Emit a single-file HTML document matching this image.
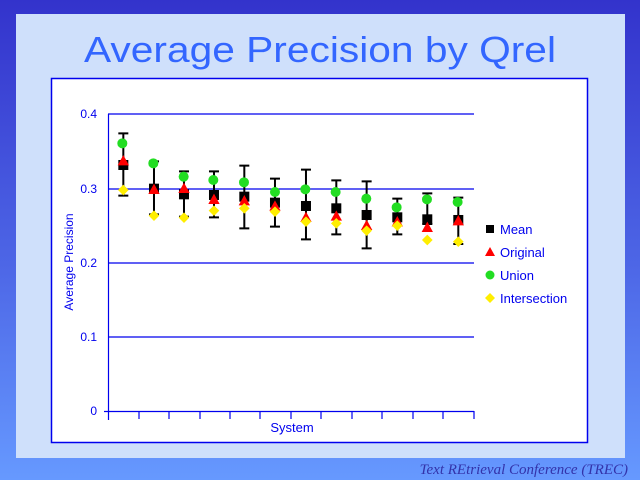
<!DOCTYPE html>
<html><head><meta charset="utf-8"><style>
html,body{margin:0;padding:0;width:640px;height:480px;overflow:hidden}
body{background:linear-gradient(#3333cc 0%,#4a66e0 60%,#6699ff 100%)}
</style></head><body>
<svg width="640" height="480" xmlns="http://www.w3.org/2000/svg" style="position:absolute;left:0;top:0">
<defs><linearGradient id="bg" x1="0" y1="0" x2="0" y2="1"><stop offset="0" stop-color="#3333cc"/><stop offset="0.55" stop-color="#4d66e6"/><stop offset="1" stop-color="#6699ff"/></linearGradient></defs>
<rect width="640" height="480" fill="url(#bg)"/>
<rect x="16" y="14" width="609" height="444" fill="#cfe0fb"/>
<text x="320" y="62" text-anchor="middle" font-family="Liberation Sans, sans-serif" font-size="36" fill="#3366ff" textLength="472" lengthAdjust="spacingAndGlyphs">Average Precision by Qrel</text>
<rect x="51.5" y="78.5" width="536" height="364" fill="#fff" stroke="#0000ee" stroke-width="1.5"/>
<g stroke="#0000ee" stroke-width="1.2">
<line x1="108" y1="114" x2="474" y2="114"/><line x1="108" y1="189" x2="474" y2="189"/>
<line x1="108" y1="263" x2="474" y2="263"/><line x1="108" y1="337" x2="474" y2="337"/>
<line x1="104" y1="411.5" x2="474" y2="411.5"/><line x1="108.5" y1="114" x2="108.5" y2="420"/>
<path d="M139 411v8M169 411v8M200 411v8M230 411v8M260 411v8M291 411v8M321 411v8M352 411v8M382 411v8M413 411v8M443 411v8M474 411v8"/>
</g>
<g font-family="Liberation Sans, sans-serif" font-size="12" fill="#0000ee" text-anchor="end">
<text x="97" y="118">0.4</text><text x="97" y="193">0.3</text><text x="97" y="267">0.2</text><text x="97" y="341">0.1</text><text x="97" y="415">0</text>
</g>
<text x="292" y="432" text-anchor="middle" font-family="Liberation Sans, sans-serif" font-size="13" fill="#0000ee">System</text>
<text transform="translate(73,262) rotate(-90)" text-anchor="middle" font-family="Liberation Sans, sans-serif" font-size="12" fill="#0000ee">Average Precision</text>
<g transform="translate(60,100) scale(0.3333)">
<g stroke="#000" stroke-width="6" fill="none">
<path d="M190 100V287M175 100h30M175 287h30"/>
<path d="M282 184V343M267 184h30M267 343h30"/>
<path d="M372 214V350M357 214h30M357 350h30"/>
<path d="M462 214V352M447 214h30M447 352h30"/>
<path d="M553 197V385M538 197h30M538 385h30"/>
<path d="M645 236V380M630 236h30M630 380h30"/>
<path d="M738 209V418M723 209h30M723 418h30"/>
<path d="M829 241V403M814 241h30M814 403h30"/>
<path d="M920 244V445M905 244h30M905 445h30"/>
<path d="M1012 296V403M997 296h30M997 403h30"/>
<path d="M1102 280V372M1087 280h30M1087 372h30"/>
<path d="M1195 293V432M1180 293h30M1180 432h30"/>
</g>
<g fill="#000">
<rect x="175" y="180" width="30" height="30"/><rect x="267" y="251" width="30" height="30"/>
<rect x="357" y="268" width="30" height="30"/><rect x="447" y="270" width="30" height="30"/>
<rect x="538" y="275" width="30" height="30"/><rect x="630" y="293" width="30" height="30"/>
<rect x="723" y="303" width="30" height="30"/><rect x="814" y="310" width="30" height="30"/>
<rect x="905" y="330" width="30" height="30"/><rect x="997" y="337" width="30" height="30"/>
<rect x="1087" y="343" width="30" height="30"/><rect x="1180" y="345" width="30" height="30"/>
</g>
<g fill="#ff0000">
<path d="M190 165l17 31h-34z"/><path d="M282 251l17 31h-34z"/><path d="M372 248l17 31h-34z"/>
<path d="M462 281l17 31h-34z"/><path d="M553 285l17 31h-34z"/><path d="M645 301l17 31h-34z"/>
<path d="M738 335l17 31h-34z"/><path d="M829 331l17 31h-34z"/><path d="M920 359l17 31h-34z"/>
<path d="M1012 348l17 31h-34z"/><path d="M1102 365l17 31h-34z"/><path d="M1195 345l17 31h-34z"/>
</g>
<g fill="#22dd22">
<circle cx="187" cy="130" r="15"/><circle cx="280" cy="190" r="15"/><circle cx="371" cy="230" r="15"/>
<circle cx="460" cy="240" r="15"/><circle cx="552" cy="247" r="15"/><circle cx="645" cy="276" r="15"/>
<circle cx="736" cy="268" r="15"/><circle cx="827" cy="276" r="15"/><circle cx="919" cy="296" r="15"/>
<circle cx="1010" cy="322" r="15"/><circle cx="1101" cy="298" r="15"/><circle cx="1193" cy="306" r="15"/>
</g>
<g fill="#ffee00">
<path d="M190 254l16 16-16 16-16-16z"/><path d="M282 331l16 16-16 16-16-16z"/><path d="M372 337l16 16-16 16-16-16z"/>
<path d="M462 316l16 16-16 16-16-16z"/><path d="M553 309l16 16-16 16-16-16z"/><path d="M645 319l16 16-16 16-16-16z"/>
<path d="M738 349l16 16-16 16-16-16z"/><path d="M829 354l16 16-16 16-16-16z"/><path d="M920 376l16 16-16 16-16-16z"/>
<path d="M1012 361l16 16-16 16-16-16z"/><path d="M1102 404l16 16-16 16-16-16z"/><path d="M1195 409l16 16-16 16-16-16z"/>
</g>
</g>
<rect x="486" y="225" width="8" height="8" fill="#000"/>
<path d="M490 247l5 9h-10z" fill="#ff0000"/>
<circle cx="490" cy="275" r="4.5" fill="#22dd22"/>
<path d="M490 293l5 5-5 5-5-5z" fill="#ffee00"/>
<g font-family="Liberation Sans, sans-serif" font-size="13" fill="#0000ee">
<text x="500" y="234">Mean</text><text x="500" y="257">Original</text><text x="500" y="280">Union</text><text x="500" y="303">Intersection</text>
</g>
<text x="628" y="474" text-anchor="end" font-family="Liberation Serif, serif" font-style="italic" font-size="15" fill="#3333aa">Text REtrieval Conference (TREC)</text>
</svg>
</body></html>
